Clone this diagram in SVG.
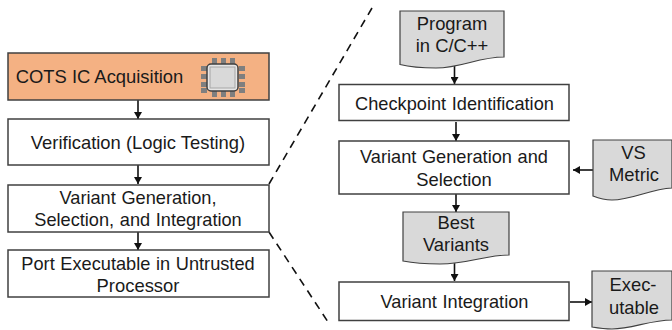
<svg xmlns="http://www.w3.org/2000/svg" width="672" height="330" viewBox="0 0 672 330">
<style>
text{font-family:"Liberation Sans",Arial,sans-serif;font-size:18.400px;fill:#1a1a1a;text-anchor:middle}
.ws{font-size:18.200px;word-spacing:0.600px}
.box{fill:#fff;stroke:#404040;stroke-width:1.5}
.doc{fill:#d9d9d9;stroke:#404040;stroke-width:1.2}
.c{fill:none;stroke:#111;stroke-width:1.6}
.d{fill:none;stroke:#111;stroke-width:1.6;stroke-dasharray:8 6}
.p{fill:#7f7f7f}
</style>
<defs>
<marker id="a" markerUnits="userSpaceOnUse" markerWidth="8" markerHeight="8" refX="7" refY="4" orient="auto"><path d="M0 0L7 4L0 8Z" fill="#111"/></marker>
</defs>
<rect width="672" height="330" fill="#fff"/>
<g id="connectors">
<path class="c" marker-end="url(#a)" d="M138 100V119"/>
<path class="c" marker-end="url(#a)" d="M138 165V184"/>
<path class="c" marker-end="url(#a)" d="M138 232V250"/>
<path class="c" marker-end="url(#a)" d="M454.500 65V84"/>
<path class="c" marker-end="url(#a)" d="M456 122V141"/>
<path class="c" marker-end="url(#a)" d="M456 194V212"/>
<path class="c" marker-end="url(#a)" d="M454.500 262V281"/>
<path class="c" marker-end="url(#a)" d="M593 170H573"/>
<path class="c" marker-end="url(#a)" d="M570 302H592"/>
<path class="d" d="M269 184L372 8"/>
<path class="d" d="M269 232L330 325"/>
</g>
<g id="cots">
<rect x="8" y="53" width="261" height="47" fill="#f4b183" stroke="#404040" stroke-width="1.5"/>
<text x="99.500" y="83">COTS IC Acquisition</text>
<g id="chip">
<g class="p">
<rect x="201" y="66" width="6" height="5"/><rect x="201" y="74" width="6" height="5"/><rect x="201" y="82" width="6" height="5"/><rect x="201" y="88" width="6" height="5"/>
<rect x="239" y="66" width="6" height="5"/><rect x="239" y="74" width="6" height="5"/><rect x="239" y="82" width="6" height="5"/><rect x="239" y="88" width="6" height="5"/>
<rect x="212" y="58" width="5" height="6"/><rect x="221" y="58" width="5" height="6"/><rect x="230" y="58" width="5" height="6"/>
<rect x="212" y="91" width="5" height="6"/><rect x="221" y="91" width="5" height="6"/><rect x="230" y="91" width="5" height="6"/>
</g>
<rect x="207" y="64" width="31" height="27" rx="4" fill="#e6e6e6" stroke="#404040" stroke-width="1.5"/>
<rect x="210" y="67" width="25" height="21" fill="#d9d9d9" stroke="#a6a6a6"/>
</g>
</g>
<g id="verification">
<rect class="box" x="8" y="119" width="261" height="46"/>
<text x="138" y="149">Verification (Logic Testing)</text>
</g>
<g id="vgsi">
<rect class="box" x="8" y="185" width="261" height="47"/>
<text class="ws" x="138" y="204">Variant Generation,</text>
<text class="ws" x="138" y="226">Selection, and Integration</text>
</g>
<g id="port">
<rect class="box" x="8" y="250" width="261" height="47"/>
<text class="ws" x="138" y="270">Port Executable in Untrusted</text>
<text x="138" y="292">Processor</text>
</g>
<g id="program">
<path class="doc" d="M400 11H504V57C478 57 462 68 436 68C422 68 410 67 400 64.500Z"/>
<text x="452" y="30">Program</text>
<text x="452" y="52">in C/C++</text>
</g>
<g id="checkpoint">
<rect class="box" x="339" y="84.500" width="230" height="36"/>
<text class="ws" x="454.500" y="110">Checkpoint Identification</text>
</g>
<g id="vgs">
<rect class="box" x="339" y="141" width="230" height="53"/>
<text class="ws" x="454" y="163">Variant Generation and</text>
<text x="454" y="186">Selection</text>
</g>
<g id="vs">
<path class="doc" d="M593 140H672V188C650 189 632 200 612 200C604 200 598 198 593 196Z"/>
<text x="633.500" y="159">VS</text>
<text x="634" y="181">Metric</text>
</g>
<g id="best">
<path class="doc" d="M403 212H509V255C485 255 468 264 440 264C425 264 413 263 403 261Z"/>
<text x="456" y="229">Best</text>
<text x="456" y="251">Variants</text>
</g>
<g id="integration">
<rect class="box" x="339" y="282" width="230" height="38.500"/>
<text class="ws" x="454.500" y="308">Variant Integration</text>
</g>
<g id="exe">
<path class="doc" d="M592 271H672V320C650 320 632 329 612 329C604 329 598 328 592 327Z"/>
<text x="633" y="291">Exec-</text>
<text x="634" y="314">utable</text>
</g>
</svg>
